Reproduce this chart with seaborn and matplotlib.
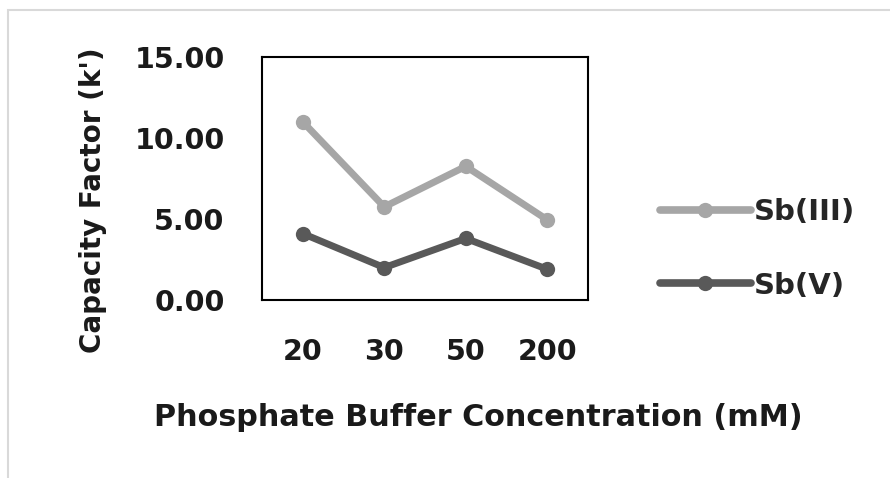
import pandas as pd
import seaborn as sns
import matplotlib.pyplot as plt
from matplotlib.patches import Rectangle
from matplotlib.ticker import FormatStrFormatter

# Data
concentrations = ['20', '30', '50', '200']
sb3_values = [11.0, 5.75, 8.25, 4.95]
sb5_values = [4.1, 2.0, 3.8, 1.9]
series_names = ['Sb(III)', 'Sb(V)']
series_colors = ['#a6a6a6', '#595959']

data = pd.DataFrame({
    'conc': concentrations * 2,
    'k': sb3_values + sb5_values,
    'species': [series_names[0]] * 4 + [series_names[1]] * 4,
})

sns.set_theme(style='white')
plt.rcParams['font.family'] = ['DejaVu Sans']
plt.rcParams['font.weight'] = 'bold'
text_color = '#1a1a1a'

fig = plt.figure(figsize=(8.9, 4.78), dpi=100)
ax = fig.add_axes([262 / 890, 1 - 300 / 478, 326 / 890, 243 / 478])

sns.lineplot(data=data, x='conc', y='k', hue='species', palette=series_colors,
             sort=False, marker='o', markersize=11, markeredgewidth=0,
             linewidth=5, ax=ax, legend=False)

ax.set_xlim(-0.5, 3.5)
ax.set_ylim(0, 15)
ax.set_yticks([0, 5, 10, 15])
ax.yaxis.set_major_formatter(FormatStrFormatter('%.2f'))
ax.tick_params(axis='both', length=0, labelsize=20.5, colors=text_color)
ax.tick_params(axis='x', pad=27)
ax.tick_params(axis='y', pad=27)
for sp in ax.spines.values():
    sp.set_color('black')
    sp.set_linewidth(1.5)
ax.set_xlabel('')
ax.set_ylabel('')

fig.text(478 / 890, 1 - 418 / 478, 'Phosphate Buffer Concentration (mM)',
         ha='center', va='center', fontsize=21.8, fontweight='bold', color=text_color)
fig.text(93 / 890, 1 - 200 / 478, "Capacity Factor (k')", rotation=90,
         ha='center', va='center', fontsize=20, fontweight='bold', color=text_color)

# legend
handles = [plt.Line2D([], [], color=c, linewidth=5.5, marker='o', markersize=11,
                      markeredgewidth=0) for c in series_colors]
fig.legend(handles, series_names, loc='center left',
           bbox_to_anchor=(634 / 890, 1 - 249 / 478), frameon=False,
           handlelength=3.1, handletextpad=0.1, labelspacing=1.55,
           prop={'weight': 'bold', 'size': 21})

# light outer frame
fig.patches.append(Rectangle((8 / 890, -0.1), 1.2, 1 - 10 / 478 + 0.1,
                             transform=fig.transFigure, fill=False,
                             edgecolor='#d9d9d9', linewidth=1.5))

fig.savefig('out.png', dpi=100)
